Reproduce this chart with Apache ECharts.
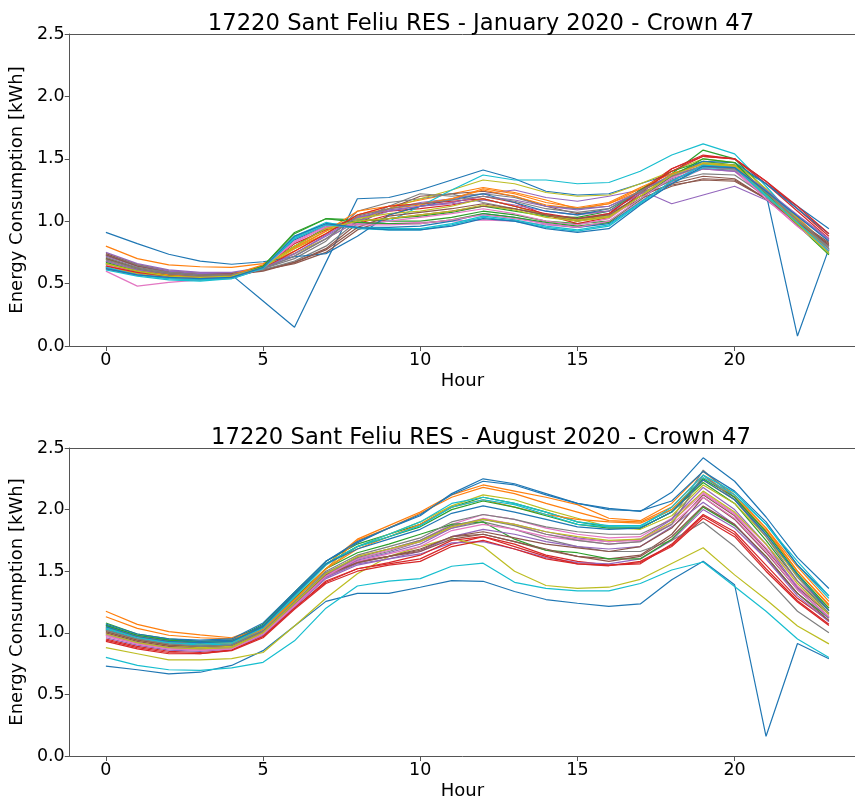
<!DOCTYPE html>
<html>
<head>
<meta charset="utf-8">
<script src="https://cdn.jsdelivr.net/npm/echarts@6/dist/echarts.min.js"></script>
<style>
html,body{margin:0;padding:0;background:#fff;}
#chart{width:855px;height:801px;}
</style>
</head>
<body>
<div id="chart"></div>
<script>
const hours = [0,1,2,3,4,5,6,7,8,9,10,11,12,13,14,15,16,17,18,19,20,21,22,23];
const xTicks = [0,5,10,15,20];
const yTicks = [0,0.5,1.0,1.5,2.0,2.5];
const titleJan = "17220 Sant Feliu RES - January 2020 - Crown 47";
const titleAug = "17220 Sant Feliu RES - August 2020 - Crown 47";
const xName = "Hour";
const yName = "Energy Consumption [kWh]";

// January 2020, one array per day
const jan01 = [0.64,0.60,0.57,0.56,0.57,0.36,0.15,0.67,1.18,1.19,1.25,1.33,1.41,1.34,1.24,1.21,1.22,1.30,1.38,1.46,1.45,1.30,1.12,0.94];
const jan02 = [0.80,0.70,0.65,0.635,0.63,0.66,0.78,0.90,1.05,1.12,1.17,1.22,1.27,1.23,1.17,1.10,1.14,1.24,1.35,1.45,1.44,1.25,1.03,0.80];
const jan03 = [0.66,0.59,0.55,0.53,0.55,0.64,0.90,1.02,1.01,1.00,1.00,1.03,1.08,1.05,1.00,0.98,1.00,1.17,1.38,1.57,1.50,1.25,1.00,0.76];
const jan04 = [0.63,0.58,0.56,0.55,0.56,0.63,0.80,0.94,1.03,1.08,1.10,1.13,1.18,1.12,1.05,1.00,1.06,1.25,1.42,1.53,1.50,1.32,1.10,0.88];
const jan05 = [0.75,0.66,0.61,0.59,0.59,0.63,0.74,0.88,1.02,1.10,1.15,1.18,1.22,1.25,1.19,1.16,1.20,1.25,1.14,1.21,1.28,1.17,0.99,0.80];
const jan06 = [0.74,0.65,0.60,0.58,0.58,0.61,0.67,0.78,0.98,1.10,1.20,1.22,1.24,1.20,1.12,1.06,1.08,1.22,1.29,1.33,1.32,1.18,1.00,0.83];
const jan07 = [0.60,0.48,0.51,0.53,0.55,0.62,0.86,0.97,0.98,0.98,0.99,1.00,1.01,1.00,0.97,0.95,0.99,1.16,1.31,1.42,1.40,1.18,0.96,0.76];
const jan08 = [0.73,0.65,0.60,0.58,0.58,0.62,0.70,0.84,1.08,1.15,1.18,1.22,1.15,1.10,1.05,1.02,1.06,1.20,1.33,1.42,1.41,1.22,1.02,0.80];
const jan09 = [0.70,0.62,0.58,0.56,0.57,0.63,0.74,0.86,1.00,1.10,1.18,1.25,1.33,1.30,1.23,1.20,1.21,1.30,1.40,1.50,1.47,1.26,1.02,0.77];
const jan10 = [0.62,0.57,0.54,0.53,0.54,0.62,0.87,0.98,0.97,1.00,1.12,1.25,1.37,1.33,1.33,1.30,1.31,1.40,1.53,1.62,1.54,1.28,1.00,0.78];
const jan11 = [0.66,0.60,0.57,0.55,0.56,0.63,0.85,0.96,0.95,0.95,0.96,1.00,1.06,1.03,0.98,0.95,0.98,1.15,1.32,1.45,1.43,1.22,0.08,0.78];
const jan12 = [0.68,0.61,0.58,0.56,0.57,0.64,0.76,0.90,1.05,1.10,1.13,1.18,1.25,1.20,1.13,1.10,1.14,1.26,1.36,1.44,1.42,1.20,0.98,0.75];
const jan13 = [0.70,0.62,0.57,0.55,0.56,0.64,0.80,0.95,1.00,1.02,1.04,1.07,1.12,1.08,1.04,1.03,1.08,1.25,1.40,1.48,1.45,1.22,0.98,0.74];
const jan14 = [0.62,0.57,0.55,0.54,0.56,0.63,0.82,0.93,0.98,1.05,1.12,1.15,1.20,1.15,1.05,0.98,1.03,1.22,1.42,1.52,1.50,1.30,1.08,0.86];
const jan15 = [0.72,0.64,0.60,0.58,0.58,0.62,0.72,0.86,1.00,1.08,1.12,1.14,1.17,1.13,1.08,1.05,1.08,1.22,1.34,1.42,1.40,1.23,1.04,0.85];
const jan16 = [0.73,0.64,0.59,0.57,0.58,0.61,0.66,0.75,0.93,1.02,1.05,1.08,1.12,1.10,1.05,1.00,1.04,1.18,1.28,1.34,1.33,1.18,0.99,0.82];
const jan17 = [0.65,0.59,0.56,0.55,0.56,0.63,0.83,0.95,0.98,1.00,1.03,1.06,1.10,1.06,1.00,0.97,1.02,1.20,1.36,1.46,1.44,1.20,0.97,0.77];
const jan18 = [0.71,0.63,0.59,0.57,0.57,0.61,0.68,0.80,1.00,1.12,1.22,1.20,1.22,1.19,1.12,1.10,1.12,1.23,1.32,1.38,1.37,1.20,1.00,0.78];
const jan19 = [0.64,0.58,0.55,0.54,0.55,0.63,0.78,0.92,1.02,1.06,1.08,1.12,1.18,1.12,1.05,1.01,1.04,1.20,1.38,1.47,1.45,1.24,1.00,0.75];
const jan20 = [0.61,0.56,0.53,0.52,0.54,0.62,0.88,0.99,0.94,0.93,0.93,0.97,1.03,1.00,0.95,0.92,0.96,1.14,1.30,1.43,1.42,1.20,0.98,0.74];
const jan21 = [0.91,0.82,0.735,0.68,0.655,0.675,0.715,0.74,0.88,1.05,1.12,1.17,1.22,1.15,1.08,1.05,1.10,1.24,1.37,1.48,1.47,1.30,1.10,0.90];
const jan22 = [0.66,0.60,0.57,0.56,0.57,0.65,0.79,0.92,1.08,1.12,1.14,1.18,1.26,1.22,1.15,1.11,1.15,1.27,1.38,1.46,1.44,1.23,1.00,0.76];
const jan23 = [0.67,0.60,0.56,0.54,0.55,0.64,0.91,1.02,0.99,0.98,0.98,1.01,1.06,1.03,0.99,0.96,0.99,1.18,1.36,1.50,1.47,1.22,0.97,0.73];
const jan24 = [0.64,0.59,0.56,0.55,0.56,0.62,0.76,0.90,1.05,1.12,1.14,1.16,1.18,1.12,1.06,1.02,1.06,1.24,1.40,1.52,1.50,1.32,1.12,0.90];
const jan25 = [0.68,0.61,0.58,0.56,0.57,0.62,0.74,0.89,1.03,1.09,1.12,1.15,1.20,1.17,1.12,1.09,1.12,1.24,1.37,1.44,1.43,1.25,1.05,0.86];
const jan26 = [0.70,0.62,0.58,0.56,0.57,0.60,0.67,0.77,0.95,1.04,1.07,1.10,1.14,1.10,1.05,1.02,1.05,1.20,1.30,1.36,1.34,1.18,0.99,0.81];
const jan27 = [0.63,0.57,0.55,0.54,0.55,0.62,0.84,0.96,0.97,0.97,0.98,1.01,1.05,1.02,0.98,0.95,1.00,1.18,1.35,1.44,1.42,1.18,0.96,0.76];
const jan28 = [0.69,0.62,0.58,0.56,0.57,0.62,0.72,0.86,1.04,1.10,1.14,1.17,1.20,1.16,1.10,1.07,1.10,1.24,1.36,1.44,1.42,1.23,1.01,0.79];
const jan29 = [0.66,0.60,0.56,0.55,0.56,0.63,0.80,0.94,1.00,1.02,1.05,1.08,1.13,1.09,1.03,1.00,1.03,1.20,1.37,1.46,1.44,1.21,0.98,0.74];
const jan30 = [0.63,0.57,0.54,0.53,0.55,0.62,0.86,0.97,0.95,0.94,0.94,0.98,1.04,1.01,0.96,0.93,0.97,1.15,1.32,1.45,1.43,1.21,0.99,0.76];
const jan31 = [0.62,0.57,0.55,0.54,0.55,0.63,0.88,0.98,0.95,0.93,0.93,0.96,1.02,1.00,0.94,0.91,0.94,1.13,1.30,1.44,1.43,1.24,1.04,0.84];

// August 2020, one array per day
const aug01 = [0.73,0.70,0.667,0.68,0.735,0.855,1.055,1.255,1.32,1.32,1.37,1.424,1.418,1.335,1.27,1.24,1.215,1.234,1.43,1.58,1.39,0.16,0.913,0.79];
const aug02 = [1.175,1.068,1.01,0.983,0.96,1.05,1.30,1.55,1.76,1.87,1.98,2.12,2.20,2.15,2.10,2.04,1.93,1.91,2.05,2.31,2.12,1.85,1.535,1.255];
const aug03 = [1.08,0.99,0.95,0.93,0.94,1.07,1.33,1.58,1.72,1.80,1.88,2.02,2.10,2.05,1.98,1.90,1.86,1.85,1.98,2.22,2.05,1.75,1.42,1.18];
const aug04 = [0.95,0.89,0.85,0.84,0.86,0.97,1.20,1.42,1.52,1.56,1.60,1.72,1.78,1.72,1.63,1.58,1.55,1.56,1.72,1.96,1.82,1.55,1.28,1.10];
const aug05 = [0.98,0.92,0.88,0.87,0.88,0.99,1.22,1.45,1.56,1.60,1.64,1.73,1.74,1.68,1.61,1.57,1.56,1.60,1.75,2.00,1.85,1.60,1.32,1.12];
const aug06 = [1.03,0.95,0.90,0.88,0.89,1.00,1.25,1.48,1.58,1.62,1.67,1.78,1.80,1.74,1.67,1.62,1.60,1.63,1.80,2.10,1.92,1.65,1.35,1.13];
const aug07 = [1.00,0.93,0.89,0.87,0.88,1.00,1.24,1.47,1.62,1.68,1.75,1.88,1.96,1.92,1.85,1.80,1.77,1.78,1.93,2.14,1.97,1.72,1.42,1.20];
const aug08 = [1.02,0.95,0.91,0.89,0.90,1.01,1.25,1.48,1.60,1.66,1.74,1.85,1.90,1.84,1.76,1.70,1.66,1.66,1.75,1.90,1.70,1.45,1.175,1.00];
const aug09 = [0.88,0.83,0.78,0.78,0.79,0.84,1.055,1.28,1.48,1.62,1.70,1.77,1.70,1.50,1.384,1.36,1.37,1.434,1.5625,1.69,1.47,1.27,1.055,0.91];
const aug10 = [0.80,0.735,0.70,0.695,0.716,0.76,0.935,1.20,1.38,1.42,1.44,1.54,1.565,1.41,1.36,1.34,1.34,1.40,1.51,1.575,1.376,1.175,0.95,0.80];
const aug11 = [1.06,0.98,0.94,0.93,0.94,1.06,1.32,1.58,1.73,1.85,1.95,2.13,2.25,2.21,2.13,2.05,2.01,1.985,2.14,2.42,2.23,1.94,1.61,1.36];
const aug12 = [1.13,1.036,0.98,0.96,0.95,1.04,1.28,1.52,1.75,1.85,1.97,2.10,2.18,2.13,2.05,1.98,1.91,1.90,2.02,2.28,2.10,1.85,1.50,1.22];
const aug13 = [1.05,0.97,0.93,0.91,0.92,1.04,1.28,1.52,1.65,1.72,1.80,1.88,1.90,1.76,1.67,1.65,1.60,1.60,1.76,2.02,1.87,1.62,1.32,1.12];
const aug14 = [0.93,0.87,0.83,0.83,0.855,0.96,1.19,1.40,1.50,1.55,1.58,1.70,1.75,1.68,1.60,1.56,1.544,1.58,1.71,1.95,1.80,1.52,1.26,1.07];
const aug15 = [0.96,0.90,0.86,0.85,0.87,0.98,1.21,1.44,1.55,1.60,1.66,1.78,1.84,1.80,1.74,1.70,1.68,1.70,1.86,2.06,1.88,1.60,1.30,1.09];
const aug16 = [1.00,0.93,0.89,0.88,0.89,1.00,1.23,1.46,1.57,1.62,1.68,1.78,1.82,1.77,1.72,1.69,1.66,1.70,1.85,2.12,1.95,1.68,1.37,1.15];
const aug17 = [0.97,0.91,0.87,0.86,0.87,0.99,1.22,1.46,1.58,1.64,1.70,1.83,1.88,1.84,1.78,1.75,1.72,1.74,1.90,2.13,1.96,1.69,1.38,1.16];
const aug18 = [1.04,0.97,0.92,0.90,0.91,1.02,1.27,1.50,1.63,1.70,1.77,1.90,1.96,1.92,1.86,1.82,1.80,1.80,1.92,2.32,2.10,1.80,1.45,1.18];
const aug19 = [1.01,0.94,0.90,0.88,0.89,1.01,1.26,1.52,1.70,1.80,1.90,2.03,2.12,2.08,2.00,1.93,1.86,1.84,1.95,2.20,2.05,1.78,1.46,1.20];
const aug20 = [1.03,0.96,0.92,0.90,0.91,1.03,1.29,1.55,1.70,1.80,1.90,2.05,2.10,2.05,1.98,1.90,1.87,1.87,2.00,2.26,2.12,1.88,1.55,1.28];
const aug21 = [1.07,0.99,0.95,0.94,0.95,1.08,1.33,1.58,1.74,1.85,1.96,2.12,2.23,2.20,2.12,2.05,2.00,1.99,2.07,2.31,2.15,1.90,1.55,1.30];
const aug22 = [1.04,0.97,0.93,0.91,0.92,1.03,1.27,1.52,1.68,1.78,1.88,2.02,2.08,2.02,1.96,1.92,1.90,1.89,2.00,2.24,2.08,1.83,1.50,1.23];
const aug23 = [1.06,0.98,0.94,0.92,0.93,1.05,1.31,1.56,1.70,1.78,1.86,2.00,2.07,2.02,1.95,1.88,1.85,1.85,1.98,2.25,2.10,1.82,1.48,1.20];
const aug24 = [0.94,0.88,0.84,0.83,0.86,0.97,1.20,1.41,1.52,1.57,1.63,1.75,1.78,1.70,1.62,1.56,1.55,1.57,1.70,1.93,1.78,1.50,1.25,1.06];
const aug25 = [0.99,0.92,0.88,0.87,0.88,0.99,1.23,1.46,1.59,1.65,1.72,1.85,1.92,1.88,1.82,1.77,1.74,1.76,1.92,2.18,2.00,1.72,1.36,1.12];
const aug26 = [1.01,0.94,0.90,0.89,0.90,1.01,1.24,1.47,1.57,1.62,1.66,1.76,1.80,1.74,1.68,1.62,1.58,1.62,1.78,2.03,1.88,1.62,1.32,1.10];
const aug27 = [0.98,0.91,0.87,0.86,0.87,0.99,1.22,1.46,1.60,1.67,1.74,1.86,1.93,1.88,1.80,1.76,1.74,1.75,1.88,2.10,1.93,1.66,1.35,1.13];
const aug28 = [1.02,0.95,0.91,0.89,0.90,1.01,1.25,1.49,1.61,1.68,1.75,1.87,1.92,1.87,1.80,1.75,1.72,1.74,1.88,2.28,2.08,1.78,1.42,1.16];
const aug29 = [0.99,0.92,0.88,0.87,0.88,1.00,1.24,1.48,1.62,1.68,1.74,1.86,1.92,1.88,1.82,1.78,1.75,1.76,1.90,2.15,1.98,1.72,1.40,1.15];
const aug30 = [1.04,0.96,0.92,0.91,0.92,1.04,1.30,1.56,1.70,1.78,1.87,2.02,2.08,2.04,1.96,1.88,1.86,1.86,2.02,2.28,2.14,1.88,1.58,1.30];
const aug31 = [1.05,0.97,0.93,0.92,0.93,1.05,1.31,1.56,1.68,1.76,1.84,1.97,2.03,1.98,1.92,1.86,1.84,1.85,1.98,2.24,2.08,1.80,1.47,1.18];

const janDays = [jan01,jan02,jan03,jan04,jan05,jan06,jan07,jan08,jan09,jan10,jan11,jan12,jan13,jan14,jan15,jan16,jan17,jan18,jan19,jan20,jan21,jan22,jan23,jan24,jan25,jan26,jan27,jan28,jan29,jan30,jan31];
const augDays = [aug01,aug02,aug03,aug04,aug05,aug06,aug07,aug08,aug09,aug10,aug11,aug12,aug13,aug14,aug15,aug16,aug17,aug18,aug19,aug20,aug21,aug22,aug23,aug24,aug25,aug26,aug27,aug28,aug29,aug30,aug31];

const palette = ['#1f77b4','#ff7f0e','#2ca02c','#d62728','#9467bd','#8c564b','#e377c2','#7f7f7f','#bcbd22','#17becf'];
const FONT = 'DejaVu Sans';
const spine = '#555';
const X_MIN = -1.15, X_MAX = 23.83;

function xAxisFor(gridIndex){
  return {
    type:'value', gridIndex, min:X_MIN, max:X_MAX, position:'bottom',
    name:xName, nameLocation:'middle', nameGap:26,
    nameTextStyle:{fontFamily:FONT,fontSize:18,color:'#000'},
    axisLine:{show:true,onZero:false,lineStyle:{color:spine,width:1}},
    axisTick:{show:true,length:5,customValues:xTicks,lineStyle:{color:spine}},
    axisLabel:{customValues:xTicks,fontFamily:FONT,fontSize:17.5,color:'#000',margin:5},
    splitLine:{show:false}
  };
}
function topSpine(gridIndex){
  return {
    type:'value', gridIndex, min:X_MIN, max:X_MAX, position:'top',
    axisLine:{show:true,onZero:false,lineStyle:{color:spine,width:1}},
    axisTick:{show:false}, axisLabel:{show:false}, splitLine:{show:false}
  };
}
function yAxisFor(gridIndex){
  return {
    type:'value', gridIndex, min:0, max:2.5, interval:0.5,
    name:yName, nameLocation:'middle', nameGap:29, nameRotate:90,
    nameTextStyle:{fontFamily:FONT,fontSize:18,color:'#000'},
    axisLine:{show:true,onZero:false,lineStyle:{color:spine,width:1}},
    axisTick:{show:true,length:5,lineStyle:{color:spine}},
    axisLabel:{fontFamily:FONT,fontSize:17.5,color:'#000',margin:5,formatter:v=>v.toFixed(1)},
    splitLine:{show:false}
  };
}

const series = [];
janDays.forEach((d,i)=>{
  series.push({type:'line',xAxisIndex:0,yAxisIndex:0,data:hours.map((h,k)=>[h,d[k]]),
    showSymbol:false,symbol:'none',lineStyle:{width:1.2,color:palette[i%10]},itemStyle:{color:palette[i%10]},silent:true});
});
augDays.forEach((d,i)=>{
  series.push({type:'line',xAxisIndex:1,yAxisIndex:1,data:hours.map((h,k)=>[h,d[k]]),
    showSymbol:false,symbol:'none',lineStyle:{width:1.2,color:palette[i%10]},itemStyle:{color:palette[i%10]},silent:true});
});

const chart = echarts.init(document.getElementById('chart'),null,{renderer:'canvas'});
chart.setOption({
  animation:false,
  backgroundColor:'#fff',
  title:[
    {text:titleJan,left:476,top:8,textAlign:'center',textStyle:{fontFamily:FONT,fontSize:22.7,fontWeight:'normal',color:'#000'}},
    {text:titleAug,left:476,top:422,textAlign:'center',textStyle:{fontFamily:FONT,fontSize:22.7,fontWeight:'normal',color:'#000'}}
  ],
  grid:[
    {left:68,top:34,width:787,height:312,show:false},
    {left:68,top:448,width:787,height:312,show:false}
  ],
  xAxis:[xAxisFor(0),xAxisFor(1),topSpine(0),topSpine(1)],
  yAxis:[yAxisFor(0),yAxisFor(1)],
  series
});
</script>
</body>
</html>
